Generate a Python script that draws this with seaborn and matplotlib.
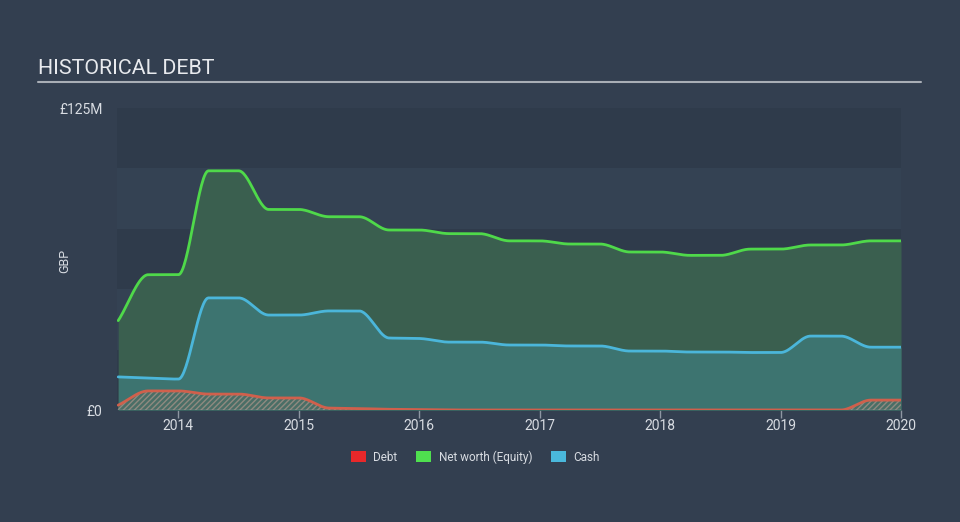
import numpy as np
import pandas as pd
import matplotlib
matplotlib.use("Agg")
import matplotlib.pyplot as plt
from matplotlib.patches import Patch
from matplotlib.lines import Line2D
import seaborn as sns

# ---- data (GBP millions), quarterly ----
dates = [2013.5, 2013.75, 2014.0, 2014.25, 2014.5, 2014.75, 2015.0, 2015.25, 2015.5,
         2015.75, 2016.0, 2016.25, 2016.5, 2016.75, 2017.0, 2017.25, 2017.5, 2017.75,
         2018.0, 2018.25, 2018.5, 2018.75, 2019.0, 2019.25, 2019.5, 2019.75, 2020.0]
equity = [37, 56, 56, 99, 99, 83, 83, 80, 80, 74.5, 74.5, 73, 73, 70, 70, 68.7, 68.7,
          65.4, 65.4, 64, 64, 66.6, 66.6, 68.3, 68.3, 70, 70]
cash = [13.7, 13.2, 12.8, 46.4, 46.4, 39.3, 39.3, 41, 41, 29.8, 29.6, 28.1, 28.1, 26.9,
        26.9, 26.5, 26.5, 24.4, 24.4, 24, 24, 23.8, 23.8, 30.6, 30.6, 26, 26]
debt = [2, 7.9, 7.9, 6.6, 6.6, 5, 5, 0.8, 0.6, 0.3, 0.2, 0, 0, 0, 0, 0, 0, 0,
        0, 0, 0, 0, 0, 0, 0, 4.1, 4.1]
year_ticks = [2014, 2015, 2016, 2017, 2018, 2019, 2020]
legend_labels = ["Debt", "Net worth (Equity)", "Cash"]


def monotone(x, y, n=800):
    x = np.asarray(x, float); y = np.asarray(y, float)
    h = np.diff(x); d = np.diff(y) / h
    m = np.zeros_like(y)
    for i in range(1, len(y) - 1):
        if d[i - 1] * d[i] <= 0:
            m[i] = 0
        else:
            w1 = 2 * h[i] + h[i - 1]; w2 = h[i] + 2 * h[i - 1]
            m[i] = (w1 + w2) / (w1 / d[i - 1] + w2 / d[i])
    m[0] = d[0]; m[-1] = d[-1]
    xs = np.linspace(x[0], x[-1], n)
    idx = np.clip(np.searchsorted(x, xs) - 1, 0, len(h) - 1)
    t = (xs - x[idx]) / h[idx]
    h00 = 2 * t**3 - 3 * t**2 + 1; h10 = t**3 - 2 * t**2 + t
    h01 = -2 * t**3 + 3 * t**2; h11 = t**3 - t**2
    ys = h00 * y[idx] + h10 * h[idx] * m[idx] + h01 * y[idx + 1] + h11 * h[idx] * m[idx + 1]
    return xs, ys


BG = "#333f50"
sns.set_theme(style="dark")
plt.rcParams["font.family"] = ["Roboto", "DejaVu Sans"]

fig = plt.figure(figsize=(9.6, 5.22), dpi=100, facecolor=BG)
ax = fig.add_axes([117 / 960, 112 / 522, 784 / 960, 302 / 522])
ax.set_facecolor(BG)

# background bands
for i, lo in enumerate(range(0, 125, 25)):
    ax.axhspan(lo, lo + 25, color="#2f3b4b" if i % 2 == 0 else "#344253", lw=0, zorder=0)

xe, ye = monotone(dates, equity)
xc, yc = monotone(dates, cash)
xd, yd = monotone(dates, debt)
yd = np.clip(yd, 0, None)

ax.fill_between(xe, 0, ye, color="#3a5f4f", lw=0, zorder=1)
ax.fill_between(xc, 0, yc, color="#3d7470", lw=0, zorder=2)
ax.fill_between(xd, 0, yd, facecolor="#4a6e66", edgecolor="#8f8a80", hatch="//////",
                lw=0, zorder=3)

df = pd.DataFrame({"x": np.concatenate([xe, xc, xd]),
                   "y": np.concatenate([ye, yc, yd]),
                   "s": ["e"] * len(xe) + ["c"] * len(xc) + ["d"] * len(xd)})
sns.lineplot(data=df, x="x", y="y", hue="s", palette={"e": "#4fd94a", "c": "#4bb6da", "d": "#d0604c"},
             hue_order=["e", "c", "d"], lw=2, legend=False, ax=ax, zorder=4, sort=False,
             estimator=None)

ax.axhline(0, color="#9aa0aa", lw=1, zorder=3.5)

ax.set_xlim(2013.49, 2020.0)
ax.set_ylim(0, 125)
ax.set_xticks(year_ticks)
ax.set_xticklabels([str(y) for y in year_ticks])
ax.set_yticks([0, 125])
ax.set_yticklabels(["£0", "£125M"])
ax.tick_params(axis="x", colors="#8e96a2", length=6, width=1, direction="out", pad=0.5,
               labelcolor="#d8dce2", labelsize=10, bottom=True)
ax.tick_params(axis="y", length=0, pad=10.5, labelcolor="#d8dce2", labelsize=10)
ax.set_xlabel("")
ax.set_ylabel("")
ax.grid(False)
for s in ax.spines.values():
    s.set_visible(False)

fig.text(65 / 960, 1 - 261 / 522, "GBP", color="#d8dce2", fontsize=9, rotation=90,
         va="center", ha="center")
fig.text(38 / 960, 1 - 69 / 522, "HISTORICAL DEBT", color="#e8eaee", fontsize=15.4,
         va="center", ha="left")
fig.add_artist(Line2D([38 / 960, 921 / 960], [1 - 82 / 522] * 2, color="#a9aeb6", lw=1.5,
                      transform=fig.transFigure))

handles = [Patch(facecolor=c, edgecolor="none") for c in ["#e8282a", "#4fe04f", "#4ab8dc"]]
fig.legend(handles, legend_labels, loc="center", bbox_to_anchor=(0.495, 1 - 457 / 522), ncol=3,
           frameon=False, fontsize=8.5, labelcolor="#d8dce2", handlelength=1.3, handleheight=1.0,
           columnspacing=1.6, handletextpad=0.6)

fig.savefig("out.png", dpi=100, facecolor=BG)
